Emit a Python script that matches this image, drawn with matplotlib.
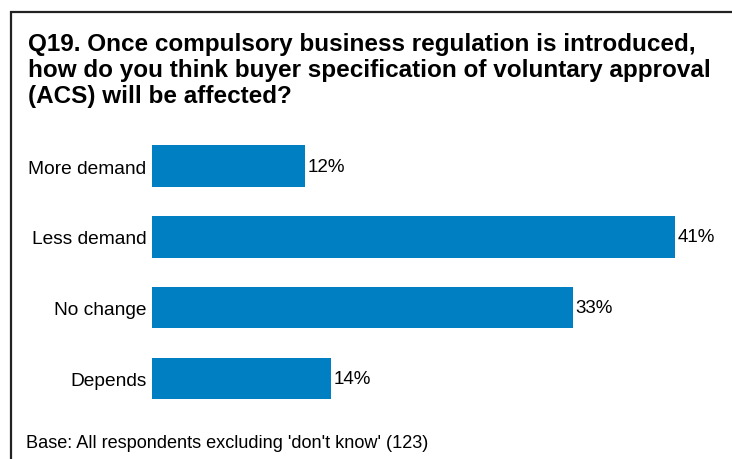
import matplotlib.pyplot as plt
from matplotlib.lines import Line2D

plt.rcParams['font.family'] = ['Liberation Sans', 'DejaVu Sans']

categories = ['More demand', 'Less demand', 'No change', 'Depends']
values = [12, 41, 33, 14]
title_lines = ['Q19. Once compulsory business regulation is introduced,',
               'how do you think buyer specification of voluntary approval',
               '(ACS) will be affected?']
footer = "Base: All respondents excluding 'don't know' (123)"

W, H = 732, 460
fig = plt.figure(figsize=(W / 100, H / 100), dpi=100)

# axes placed in pixel terms
left, right, top, bottom = 152, 712, 131.6, 415
ax = fig.add_axes([left / W, 1 - bottom / H, (right - left) / W, (bottom - top) / H])

ypos = list(range(len(categories)))
bars = ax.barh(ypos, values, height=0.586, color='#0080C2')
ax.set_xlim(0, (right - left) / 12.756)
ax.set_ylim(len(categories) - 0.5, -0.5)
ax.set_yticks(ypos)
ax.set_yticklabels(categories, fontsize=13.8)
ax.tick_params(axis='y', length=0, pad=4)
ax.set_xticks([])
for s in ax.spines.values():
    s.set_visible(False)

for b, v in zip(bars, values):
    ax.annotate('%d%%' % v, (b.get_width(), b.get_y() + b.get_height() / 2),
                xytext=(2, 0), textcoords='offset points',
                va='center', ha='left', fontsize=13.5)

# title, one line at a time
for i, line in enumerate(title_lines):
    fig.text(28 / W, 1 - (51 + 26 * i) / H, line, fontsize=17.5,
             fontweight='bold', va='baseline', ha='left')
fig.text(26 / W, 1 - 448 / H, footer, fontsize=13.1, va='baseline', ha='left')

# frame: top and left edges
fig.add_artist(Line2D([9.5 / W, 1], [1 - 12.5 / H, 1 - 12.5 / H],
                      color='#222222', lw=1.6, solid_capstyle='butt'))
fig.add_artist(Line2D([10.5 / W, 10.5 / W], [1 - 11.5 / H, 0],
                      color='#222222', lw=1.6, solid_capstyle='butt'))

fig.savefig('out.png', dpi=100)
